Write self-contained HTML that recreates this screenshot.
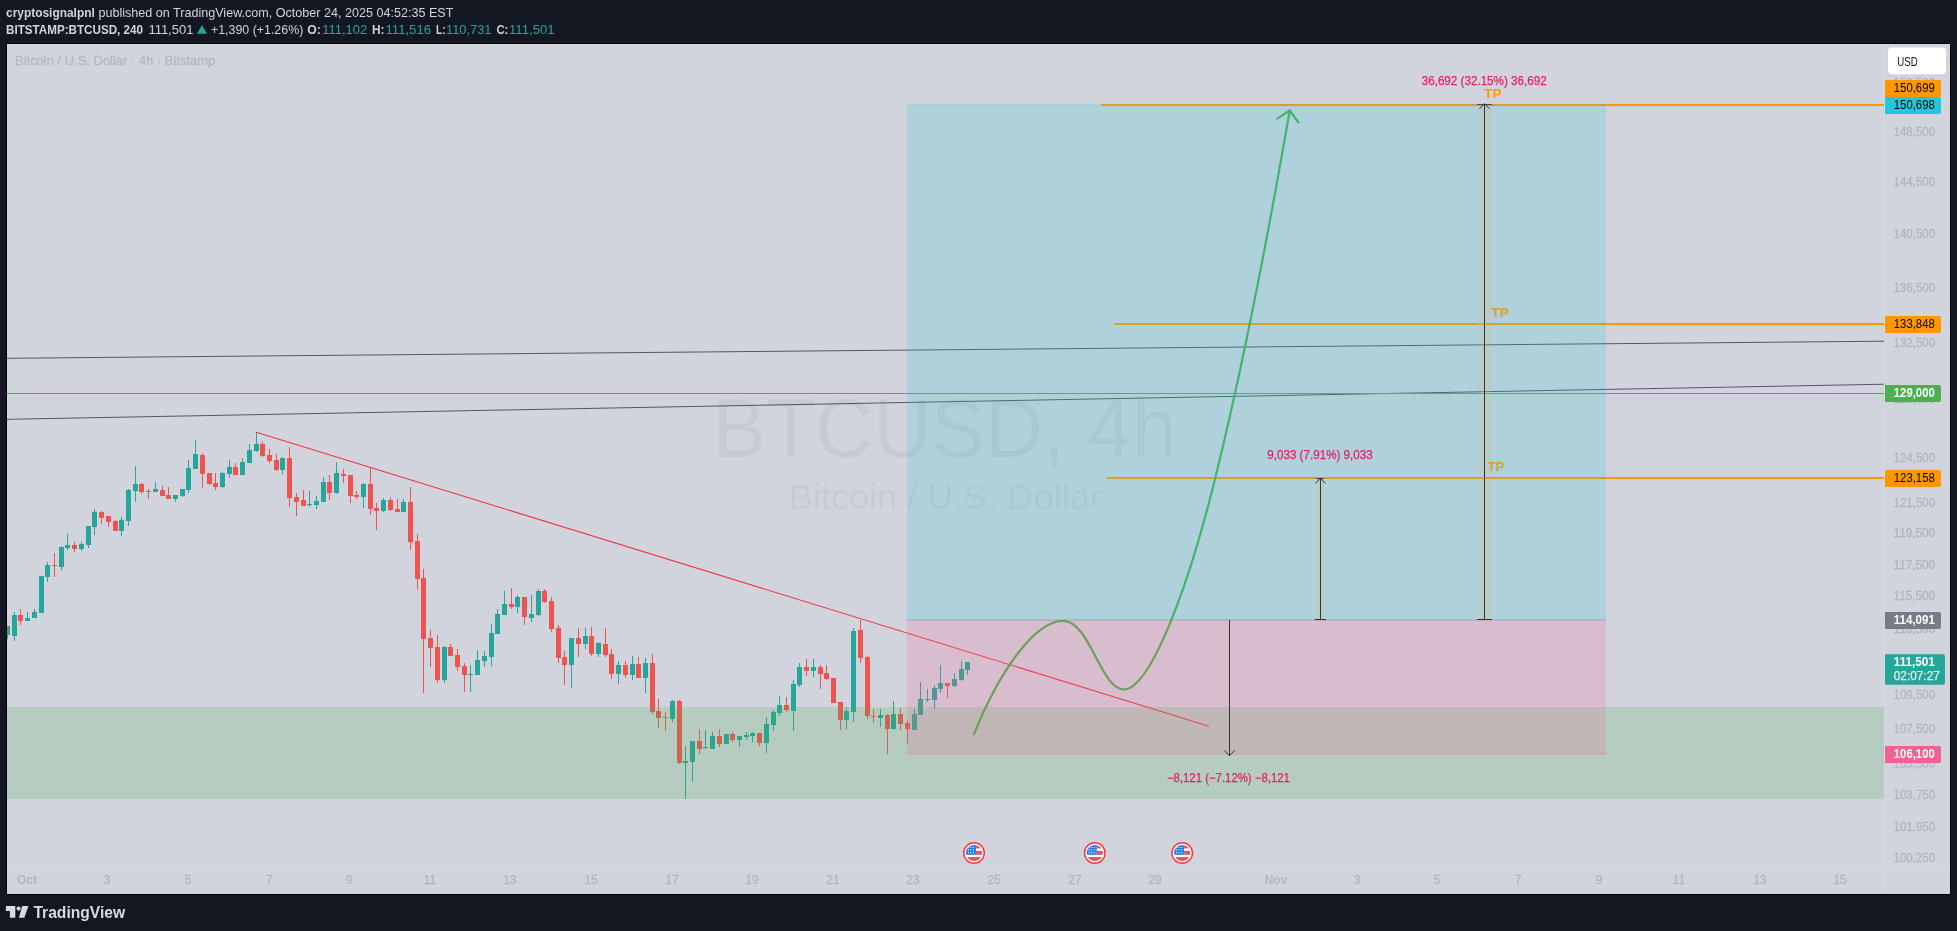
<!DOCTYPE html>
<html><head><meta charset="utf-8"><title>BTCUSD chart</title>
<style>html,body{margin:0;padding:0;background:#131722;overflow:hidden}body{width:1957px;height:931px;font-family:"Liberation Sans",sans-serif}</style></head>
<body>
<svg width="1957" height="931" viewBox="0 0 1957 931" style="display:block;will-change:transform">
<defs>
<clipPath id="cc"><rect x="7" y="44" width="1878" height="823"/></clipPath>
<clipPath id="ca"><rect x="7" y="44" width="1943" height="850"/></clipPath>
<clipPath id="fl"><circle cx="0" cy="0" r="8.1"/></clipPath>
</defs>
<rect width="1957" height="931" fill="#131722"/>
<rect x="6" y="43" width="1945" height="852" fill="#000"/>
<rect x="7" y="44" width="1943" height="850" fill="#d1d4dc"/>
<text x="6" y="17" font-size="13" fill="#d1d4dc" font-family="Liberation Sans, sans-serif" font-weight="bold" textLength="88.8" lengthAdjust="spacingAndGlyphs" >cryptosignalpnl</text>
<text x="98.4" y="17" font-size="13" fill="#d1d4dc" font-family="Liberation Sans, sans-serif" textLength="355" lengthAdjust="spacingAndGlyphs" >published on TradingView.com, October 24, 2025 04:52:35 EST</text>
<text x="6" y="34" font-size="13" fill="#d1d4dc" font-family="Liberation Sans, sans-serif" font-weight="bold" textLength="137" lengthAdjust="spacingAndGlyphs" >BITSTAMP:BTCUSD, 240</text>
<text x="148.4" y="34" font-size="13" fill="#d1d4dc" font-family="Liberation Sans, sans-serif" textLength="45" lengthAdjust="spacingAndGlyphs" >111,501</text>
<path d="M197 33.7 L202 25 L207 33.7 Z" fill="#26a69a"/>
<text x="211" y="34" font-size="13" fill="#d1d4dc" font-family="Liberation Sans, sans-serif" textLength="92.3" lengthAdjust="spacingAndGlyphs" >+1,390 (+1.26%)</text>
<text x="307.2" y="34" font-size="13" fill="#d1d4dc" font-family="Liberation Sans, sans-serif" font-weight="bold" textLength="13.5" lengthAdjust="spacingAndGlyphs" >O:</text>
<text x="322.2" y="34" font-size="13" fill="#26a69a" font-family="Liberation Sans, sans-serif" textLength="45" lengthAdjust="spacingAndGlyphs" >111,102</text>
<text x="372" y="34" font-size="13" fill="#d1d4dc" font-family="Liberation Sans, sans-serif" font-weight="bold" textLength="12.5" lengthAdjust="spacingAndGlyphs" >H:</text>
<text x="385.5" y="34" font-size="13" fill="#26a69a" font-family="Liberation Sans, sans-serif" textLength="45.5" lengthAdjust="spacingAndGlyphs" >111,516</text>
<text x="436" y="34" font-size="13" fill="#d1d4dc" font-family="Liberation Sans, sans-serif" font-weight="bold" textLength="9.5" lengthAdjust="spacingAndGlyphs" >L:</text>
<text x="446" y="34" font-size="13" fill="#26a69a" font-family="Liberation Sans, sans-serif" textLength="45.4" lengthAdjust="spacingAndGlyphs" >110,731</text>
<text x="496.4" y="34" font-size="13" fill="#d1d4dc" font-family="Liberation Sans, sans-serif" font-weight="bold" textLength="12" lengthAdjust="spacingAndGlyphs" >C:</text>
<text x="509" y="34" font-size="13" fill="#26a69a" font-family="Liberation Sans, sans-serif" textLength="45.7" lengthAdjust="spacingAndGlyphs" >111,501</text>
<g clip-path="url(#cc)">
<g opacity="0.14">
<text x="944.6" y="457.3" font-size="83" fill="#8f94a3" font-family="Liberation Sans, sans-serif" textLength="464" lengthAdjust="spacingAndGlyphs" text-anchor="middle" >BTCUSD, 4h</text>
<text x="945.3" y="508.8" font-size="35" fill="#8f94a3" font-family="Liberation Sans, sans-serif" textLength="313" lengthAdjust="spacingAndGlyphs" text-anchor="middle" >Bitcoin / U.S. Dollar</text>
</g>
<text x="15" y="65.4" font-size="13" fill="#b4b7c1" font-family="Liberation Sans, sans-serif" textLength="200.3" lengthAdjust="spacingAndGlyphs" stroke="#b4b7c1" stroke-width="0.3">Bitcoin / U.S. Dollar · 4h · Bitstamp</text>
<rect x="14" y="612" width="1" height="29" fill="#26a69a"/>
<rect x="12" y="615" width="5" height="21" fill="#26a69a"/>
<rect x="20" y="609" width="1" height="16" fill="#ef5350"/>
<rect x="18" y="615" width="5" height="6" fill="#ef5350"/>
<rect x="27" y="612" width="1" height="9" fill="#26a69a"/>
<rect x="25" y="618" width="5" height="3" fill="#26a69a"/>
<rect x="34" y="609" width="1" height="9" fill="#26a69a"/>
<rect x="32" y="612" width="5" height="6" fill="#26a69a"/>
<rect x="41" y="576" width="1" height="37" fill="#26a69a"/>
<rect x="39" y="576" width="5" height="37" fill="#26a69a"/>
<rect x="47" y="562" width="1" height="20" fill="#26a69a"/>
<rect x="45" y="565" width="5" height="12" fill="#26a69a"/>
<rect x="54" y="553" width="1" height="24" fill="#ef5350"/>
<rect x="52" y="565" width="5" height="1" fill="#ef5350"/>
<rect x="61" y="546" width="1" height="24" fill="#26a69a"/>
<rect x="59" y="547" width="5" height="20" fill="#26a69a"/>
<rect x="67" y="534" width="1" height="16" fill="#26a69a"/>
<rect x="65" y="545" width="5" height="3" fill="#26a69a"/>
<rect x="74" y="542" width="1" height="10" fill="#ef5350"/>
<rect x="72" y="545" width="5" height="4" fill="#ef5350"/>
<rect x="81" y="542" width="1" height="9" fill="#26a69a"/>
<rect x="79" y="544" width="5" height="5" fill="#26a69a"/>
<rect x="88" y="526" width="1" height="22" fill="#26a69a"/>
<rect x="86" y="526" width="5" height="19" fill="#26a69a"/>
<rect x="94" y="509" width="1" height="26" fill="#26a69a"/>
<rect x="92" y="512" width="5" height="15" fill="#26a69a"/>
<rect x="101" y="511" width="1" height="13" fill="#ef5350"/>
<rect x="99" y="512" width="5" height="6" fill="#ef5350"/>
<rect x="108" y="516" width="1" height="11" fill="#ef5350"/>
<rect x="106" y="516" width="5" height="6" fill="#ef5350"/>
<rect x="115" y="520" width="1" height="11" fill="#ef5350"/>
<rect x="113" y="521" width="5" height="10" fill="#ef5350"/>
<rect x="121" y="517" width="1" height="19" fill="#26a69a"/>
<rect x="119" y="520" width="5" height="11" fill="#26a69a"/>
<rect x="128" y="489" width="1" height="37" fill="#26a69a"/>
<rect x="126" y="490" width="5" height="31" fill="#26a69a"/>
<rect x="135" y="466" width="1" height="36" fill="#26a69a"/>
<rect x="133" y="484" width="5" height="7" fill="#26a69a"/>
<rect x="141" y="483" width="1" height="11" fill="#ef5350"/>
<rect x="139" y="484" width="5" height="8" fill="#ef5350"/>
<rect x="148" y="489" width="1" height="10" fill="#ef5350"/>
<rect x="146" y="491" width="5" height="1" fill="#ef5350"/>
<rect x="155" y="482" width="1" height="10" fill="#26a69a"/>
<rect x="153" y="489" width="5" height="3" fill="#26a69a"/>
<rect x="162" y="486" width="1" height="10" fill="#ef5350"/>
<rect x="160" y="490" width="5" height="6" fill="#ef5350"/>
<rect x="168" y="487" width="1" height="12" fill="#ef5350"/>
<rect x="166" y="495" width="5" height="4" fill="#ef5350"/>
<rect x="175" y="495" width="1" height="7" fill="#26a69a"/>
<rect x="173" y="495" width="5" height="4" fill="#26a69a"/>
<rect x="182" y="489" width="1" height="8" fill="#26a69a"/>
<rect x="180" y="489" width="5" height="7" fill="#26a69a"/>
<rect x="188" y="460" width="1" height="33" fill="#26a69a"/>
<rect x="186" y="468" width="5" height="22" fill="#26a69a"/>
<rect x="195" y="440" width="1" height="29" fill="#26a69a"/>
<rect x="193" y="454" width="5" height="15" fill="#26a69a"/>
<rect x="202" y="453" width="1" height="35" fill="#ef5350"/>
<rect x="200" y="455" width="5" height="19" fill="#ef5350"/>
<rect x="209" y="473" width="1" height="12" fill="#ef5350"/>
<rect x="207" y="473" width="5" height="11" fill="#ef5350"/>
<rect x="215" y="473" width="1" height="17" fill="#ef5350"/>
<rect x="213" y="483" width="5" height="4" fill="#ef5350"/>
<rect x="222" y="472" width="1" height="16" fill="#26a69a"/>
<rect x="220" y="473" width="5" height="14" fill="#26a69a"/>
<rect x="229" y="460" width="1" height="18" fill="#26a69a"/>
<rect x="227" y="467" width="5" height="7" fill="#26a69a"/>
<rect x="235" y="463" width="1" height="12" fill="#ef5350"/>
<rect x="233" y="467" width="5" height="8" fill="#ef5350"/>
<rect x="242" y="458" width="1" height="17" fill="#26a69a"/>
<rect x="240" y="462" width="5" height="13" fill="#26a69a"/>
<rect x="249" y="444" width="1" height="19" fill="#26a69a"/>
<rect x="247" y="450" width="5" height="13" fill="#26a69a"/>
<rect x="256" y="432" width="1" height="20" fill="#26a69a"/>
<rect x="254" y="444" width="5" height="7" fill="#26a69a"/>
<rect x="262" y="442" width="1" height="15" fill="#ef5350"/>
<rect x="260" y="444" width="5" height="12" fill="#ef5350"/>
<rect x="269" y="449" width="1" height="14" fill="#ef5350"/>
<rect x="267" y="455" width="5" height="6" fill="#ef5350"/>
<rect x="276" y="454" width="1" height="17" fill="#ef5350"/>
<rect x="274" y="460" width="5" height="10" fill="#ef5350"/>
<rect x="282" y="457" width="1" height="17" fill="#26a69a"/>
<rect x="280" y="458" width="5" height="12" fill="#26a69a"/>
<rect x="289" y="447" width="1" height="60" fill="#ef5350"/>
<rect x="287" y="458" width="5" height="40" fill="#ef5350"/>
<rect x="296" y="493" width="1" height="23" fill="#ef5350"/>
<rect x="294" y="497" width="5" height="5" fill="#ef5350"/>
<rect x="303" y="490" width="1" height="16" fill="#ef5350"/>
<rect x="301" y="500" width="5" height="6" fill="#ef5350"/>
<rect x="309" y="491" width="1" height="16" fill="#26a69a"/>
<rect x="307" y="504" width="5" height="1" fill="#26a69a"/>
<rect x="316" y="496" width="1" height="13" fill="#26a69a"/>
<rect x="314" y="501" width="5" height="4" fill="#26a69a"/>
<rect x="323" y="477" width="1" height="25" fill="#26a69a"/>
<rect x="321" y="482" width="5" height="20" fill="#26a69a"/>
<rect x="329" y="475" width="1" height="25" fill="#ef5350"/>
<rect x="327" y="482" width="5" height="11" fill="#ef5350"/>
<rect x="336" y="462" width="1" height="32" fill="#26a69a"/>
<rect x="334" y="473" width="5" height="20" fill="#26a69a"/>
<rect x="343" y="469" width="1" height="14" fill="#ef5350"/>
<rect x="341" y="474" width="5" height="2" fill="#ef5350"/>
<rect x="350" y="475" width="1" height="28" fill="#ef5350"/>
<rect x="348" y="475" width="5" height="21" fill="#ef5350"/>
<rect x="356" y="491" width="1" height="8" fill="#ef5350"/>
<rect x="354" y="495" width="5" height="2" fill="#ef5350"/>
<rect x="363" y="483" width="1" height="25" fill="#26a69a"/>
<rect x="361" y="484" width="5" height="13" fill="#26a69a"/>
<rect x="370" y="468" width="1" height="47" fill="#ef5350"/>
<rect x="368" y="484" width="5" height="25" fill="#ef5350"/>
<rect x="376" y="503" width="1" height="27" fill="#ef5350"/>
<rect x="374" y="508" width="5" height="3" fill="#ef5350"/>
<rect x="383" y="498" width="1" height="14" fill="#26a69a"/>
<rect x="381" y="500" width="5" height="11" fill="#26a69a"/>
<rect x="390" y="497" width="1" height="14" fill="#ef5350"/>
<rect x="388" y="500" width="5" height="10" fill="#ef5350"/>
<rect x="397" y="499" width="1" height="13" fill="#ef5350"/>
<rect x="395" y="509" width="5" height="3" fill="#ef5350"/>
<rect x="403" y="499" width="1" height="13" fill="#26a69a"/>
<rect x="401" y="502" width="5" height="10" fill="#26a69a"/>
<rect x="410" y="487" width="1" height="63" fill="#ef5350"/>
<rect x="408" y="502" width="5" height="40" fill="#ef5350"/>
<rect x="417" y="534" width="1" height="56" fill="#ef5350"/>
<rect x="415" y="541" width="5" height="38" fill="#ef5350"/>
<rect x="423" y="569" width="1" height="124" fill="#ef5350"/>
<rect x="421" y="578" width="5" height="61" fill="#ef5350"/>
<rect x="430" y="630" width="1" height="37" fill="#ef5350"/>
<rect x="428" y="638" width="5" height="10" fill="#ef5350"/>
<rect x="437" y="635" width="1" height="48" fill="#ef5350"/>
<rect x="435" y="647" width="5" height="33" fill="#ef5350"/>
<rect x="444" y="646" width="1" height="37" fill="#26a69a"/>
<rect x="442" y="647" width="5" height="33" fill="#26a69a"/>
<rect x="450" y="644" width="1" height="12" fill="#ef5350"/>
<rect x="448" y="647" width="5" height="9" fill="#ef5350"/>
<rect x="457" y="649" width="1" height="22" fill="#ef5350"/>
<rect x="455" y="655" width="5" height="12" fill="#ef5350"/>
<rect x="464" y="663" width="1" height="29" fill="#ef5350"/>
<rect x="462" y="666" width="5" height="9" fill="#ef5350"/>
<rect x="470" y="665" width="1" height="27" fill="#26a69a"/>
<rect x="468" y="674" width="5" height="1" fill="#26a69a"/>
<rect x="477" y="650" width="1" height="25" fill="#26a69a"/>
<rect x="475" y="660" width="5" height="15" fill="#26a69a"/>
<rect x="484" y="651" width="1" height="16" fill="#26a69a"/>
<rect x="482" y="656" width="5" height="5" fill="#26a69a"/>
<rect x="491" y="624" width="1" height="42" fill="#26a69a"/>
<rect x="489" y="633" width="5" height="24" fill="#26a69a"/>
<rect x="497" y="609" width="1" height="25" fill="#26a69a"/>
<rect x="495" y="614" width="5" height="20" fill="#26a69a"/>
<rect x="504" y="591" width="1" height="24" fill="#26a69a"/>
<rect x="502" y="604" width="5" height="11" fill="#26a69a"/>
<rect x="511" y="588" width="1" height="21" fill="#ef5350"/>
<rect x="509" y="604" width="5" height="3" fill="#ef5350"/>
<rect x="517" y="595" width="1" height="18" fill="#26a69a"/>
<rect x="515" y="597" width="5" height="10" fill="#26a69a"/>
<rect x="524" y="597" width="1" height="28" fill="#ef5350"/>
<rect x="522" y="597" width="5" height="20" fill="#ef5350"/>
<rect x="531" y="595" width="1" height="27" fill="#26a69a"/>
<rect x="529" y="614" width="5" height="4" fill="#26a69a"/>
<rect x="538" y="589" width="1" height="27" fill="#26a69a"/>
<rect x="536" y="591" width="5" height="24" fill="#26a69a"/>
<rect x="544" y="589" width="1" height="14" fill="#ef5350"/>
<rect x="542" y="591" width="5" height="11" fill="#ef5350"/>
<rect x="551" y="597" width="1" height="35" fill="#ef5350"/>
<rect x="549" y="601" width="5" height="28" fill="#ef5350"/>
<rect x="558" y="625" width="1" height="38" fill="#ef5350"/>
<rect x="556" y="628" width="5" height="30" fill="#ef5350"/>
<rect x="564" y="651" width="1" height="34" fill="#ef5350"/>
<rect x="562" y="657" width="5" height="8" fill="#ef5350"/>
<rect x="571" y="638" width="1" height="50" fill="#26a69a"/>
<rect x="569" y="638" width="5" height="27" fill="#26a69a"/>
<rect x="578" y="628" width="1" height="29" fill="#ef5350"/>
<rect x="576" y="638" width="5" height="6" fill="#ef5350"/>
<rect x="585" y="628" width="1" height="21" fill="#26a69a"/>
<rect x="583" y="636" width="5" height="8" fill="#26a69a"/>
<rect x="591" y="627" width="1" height="29" fill="#ef5350"/>
<rect x="589" y="636" width="5" height="18" fill="#ef5350"/>
<rect x="598" y="642" width="1" height="15" fill="#26a69a"/>
<rect x="596" y="643" width="5" height="11" fill="#26a69a"/>
<rect x="605" y="628" width="1" height="29" fill="#ef5350"/>
<rect x="603" y="644" width="5" height="11" fill="#ef5350"/>
<rect x="611" y="649" width="1" height="30" fill="#ef5350"/>
<rect x="609" y="654" width="5" height="20" fill="#ef5350"/>
<rect x="618" y="661" width="1" height="23" fill="#26a69a"/>
<rect x="616" y="665" width="5" height="9" fill="#26a69a"/>
<rect x="625" y="661" width="1" height="17" fill="#ef5350"/>
<rect x="623" y="665" width="5" height="10" fill="#ef5350"/>
<rect x="632" y="656" width="1" height="24" fill="#26a69a"/>
<rect x="630" y="664" width="5" height="11" fill="#26a69a"/>
<rect x="638" y="657" width="1" height="21" fill="#ef5350"/>
<rect x="636" y="664" width="5" height="14" fill="#ef5350"/>
<rect x="645" y="658" width="1" height="35" fill="#26a69a"/>
<rect x="643" y="663" width="5" height="15" fill="#26a69a"/>
<rect x="652" y="654" width="1" height="60" fill="#ef5350"/>
<rect x="650" y="663" width="5" height="49" fill="#ef5350"/>
<rect x="658" y="699" width="1" height="29" fill="#ef5350"/>
<rect x="656" y="711" width="5" height="7" fill="#ef5350"/>
<rect x="665" y="712" width="1" height="19" fill="#ef5350"/>
<rect x="663" y="717" width="5" height="1" fill="#ef5350"/>
<rect x="672" y="700" width="1" height="22" fill="#26a69a"/>
<rect x="670" y="701" width="5" height="18" fill="#26a69a"/>
<rect x="679" y="700" width="1" height="64" fill="#ef5350"/>
<rect x="677" y="701" width="5" height="62" fill="#ef5350"/>
<rect x="685" y="746" width="1" height="53" fill="#26a69a"/>
<rect x="683" y="761" width="5" height="2" fill="#26a69a"/>
<rect x="692" y="741" width="1" height="41" fill="#26a69a"/>
<rect x="690" y="741" width="5" height="21" fill="#26a69a"/>
<rect x="699" y="729" width="1" height="25" fill="#ef5350"/>
<rect x="697" y="741" width="5" height="8" fill="#ef5350"/>
<rect x="705" y="730" width="1" height="19" fill="#26a69a"/>
<rect x="703" y="747" width="5" height="1" fill="#26a69a"/>
<rect x="712" y="732" width="1" height="17" fill="#26a69a"/>
<rect x="710" y="736" width="5" height="13" fill="#26a69a"/>
<rect x="719" y="729" width="1" height="18" fill="#ef5350"/>
<rect x="717" y="736" width="5" height="8" fill="#ef5350"/>
<rect x="726" y="734" width="1" height="10" fill="#26a69a"/>
<rect x="724" y="734" width="5" height="10" fill="#26a69a"/>
<rect x="732" y="732" width="1" height="10" fill="#ef5350"/>
<rect x="730" y="734" width="5" height="6" fill="#ef5350"/>
<rect x="739" y="736" width="1" height="11" fill="#26a69a"/>
<rect x="737" y="736" width="5" height="4" fill="#26a69a"/>
<rect x="746" y="732" width="1" height="8" fill="#26a69a"/>
<rect x="744" y="735" width="5" height="2" fill="#26a69a"/>
<rect x="752" y="732" width="1" height="10" fill="#26a69a"/>
<rect x="750" y="733" width="5" height="3" fill="#26a69a"/>
<rect x="759" y="733" width="1" height="13" fill="#ef5350"/>
<rect x="757" y="733" width="5" height="10" fill="#ef5350"/>
<rect x="766" y="717" width="1" height="36" fill="#26a69a"/>
<rect x="764" y="724" width="5" height="19" fill="#26a69a"/>
<rect x="773" y="710" width="1" height="21" fill="#26a69a"/>
<rect x="771" y="712" width="5" height="13" fill="#26a69a"/>
<rect x="779" y="696" width="1" height="20" fill="#26a69a"/>
<rect x="777" y="705" width="5" height="8" fill="#26a69a"/>
<rect x="786" y="697" width="1" height="15" fill="#ef5350"/>
<rect x="784" y="705" width="5" height="5" fill="#ef5350"/>
<rect x="793" y="680" width="1" height="51" fill="#26a69a"/>
<rect x="791" y="684" width="5" height="27" fill="#26a69a"/>
<rect x="799" y="663" width="1" height="24" fill="#26a69a"/>
<rect x="797" y="667" width="5" height="18" fill="#26a69a"/>
<rect x="806" y="659" width="1" height="17" fill="#ef5350"/>
<rect x="804" y="667" width="5" height="4" fill="#ef5350"/>
<rect x="813" y="659" width="1" height="18" fill="#26a69a"/>
<rect x="811" y="667" width="5" height="4" fill="#26a69a"/>
<rect x="820" y="665" width="1" height="24" fill="#ef5350"/>
<rect x="818" y="667" width="5" height="7" fill="#ef5350"/>
<rect x="826" y="665" width="1" height="15" fill="#ef5350"/>
<rect x="824" y="673" width="5" height="6" fill="#ef5350"/>
<rect x="833" y="678" width="1" height="25" fill="#ef5350"/>
<rect x="831" y="678" width="5" height="25" fill="#ef5350"/>
<rect x="840" y="702" width="1" height="28" fill="#ef5350"/>
<rect x="838" y="702" width="5" height="18" fill="#ef5350"/>
<rect x="846" y="707" width="1" height="22" fill="#26a69a"/>
<rect x="844" y="711" width="5" height="9" fill="#26a69a"/>
<rect x="853" y="628" width="1" height="94" fill="#26a69a"/>
<rect x="851" y="631" width="5" height="81" fill="#26a69a"/>
<rect x="860" y="620" width="1" height="43" fill="#ef5350"/>
<rect x="858" y="630" width="5" height="28" fill="#ef5350"/>
<rect x="867" y="656" width="1" height="63" fill="#ef5350"/>
<rect x="865" y="657" width="5" height="59" fill="#ef5350"/>
<rect x="873" y="709" width="1" height="14" fill="#ef5350"/>
<rect x="871" y="716" width="5" height="1" fill="#ef5350"/>
<rect x="880" y="709" width="1" height="18" fill="#26a69a"/>
<rect x="878" y="715" width="5" height="3" fill="#26a69a"/>
<rect x="887" y="714" width="1" height="40" fill="#ef5350"/>
<rect x="885" y="715" width="5" height="14" fill="#ef5350"/>
<rect x="893" y="701" width="1" height="29" fill="#26a69a"/>
<rect x="891" y="714" width="5" height="15" fill="#26a69a"/>
<rect x="900" y="708" width="1" height="22" fill="#ef5350"/>
<rect x="898" y="714" width="5" height="10" fill="#ef5350"/>
<rect x="907" y="720" width="1" height="24" fill="#ef5350"/>
<rect x="905" y="723" width="5" height="6" fill="#ef5350"/>
<rect x="914" y="709" width="1" height="21" fill="#26a69a"/>
<rect x="912" y="714" width="5" height="16" fill="#26a69a"/>
<rect x="920" y="682" width="1" height="33" fill="#26a69a"/>
<rect x="918" y="699" width="5" height="16" fill="#26a69a"/>
<rect x="927" y="689" width="1" height="13" fill="#26a69a"/>
<rect x="925" y="699" width="5" height="1" fill="#26a69a"/>
<rect x="934" y="685" width="1" height="24" fill="#26a69a"/>
<rect x="932" y="688" width="5" height="12" fill="#26a69a"/>
<rect x="940" y="665" width="1" height="28" fill="#26a69a"/>
<rect x="938" y="683" width="5" height="6" fill="#26a69a"/>
<rect x="947" y="683" width="1" height="15" fill="#ef5350"/>
<rect x="945" y="683" width="5" height="3" fill="#ef5350"/>
<rect x="954" y="673" width="1" height="14" fill="#26a69a"/>
<rect x="952" y="679" width="5" height="7" fill="#26a69a"/>
<rect x="961" y="661" width="1" height="20" fill="#26a69a"/>
<rect x="959" y="669" width="5" height="11" fill="#26a69a"/>
<rect x="967" y="662" width="1" height="13" fill="#26a69a"/>
<rect x="965" y="662" width="5" height="8" fill="#26a69a"/>
<rect x="7" y="626" width="1" height="13" fill="#26a69a"/>
<rect x="5" y="626" width="5" height="9" fill="#26a69a"/>
<line x1="7" y1="358.3" x2="1885" y2="341.2" stroke="#2a2e39" stroke-width="1" opacity="0.75"/>
<line x1="7" y1="419.3" x2="1885" y2="384.2" stroke="#2a2e39" stroke-width="1" opacity="0.75"/>
<rect x="7" y="393" width="1878" height="1" fill="#4caf50"/>
<rect x="1101" y="104" width="784" height="2" fill="#ff9800"/>
<rect x="1114.5" y="323" width="771" height="2" fill="#ff9800"/>
<rect x="1107" y="477" width="778" height="2" fill="#ff9800"/>
<line x1="255.5" y1="432" x2="1209" y2="726.2" stroke="#f23645" stroke-width="1.05"/>
<path d="M974 734 C 1000 670, 1035 621, 1063 620.8 C 1090 620.8, 1100.5 689.5, 1123.9 689.5 C 1148.2 689.5, 1185.2 599.9, 1215.4 477.5 C 1239.2 380.9, 1267.85 236.85, 1289.7 110.8" fill="none" stroke="#4caf50" stroke-width="2.2" stroke-linecap="round"/>
<path d="M1277.4 118.7 L1289.7 110.5 L1298.3 122.4" fill="none" stroke="#4caf50" stroke-width="2.2" stroke-linecap="round" stroke-linejoin="round"/>
<text x="1491.6" y="317" font-size="13" fill="#ff9800" font-family="Liberation Sans, sans-serif" font-weight="bold" textLength="16.9" lengthAdjust="spacingAndGlyphs" >TP</text>
<text x="1487.5" y="471" font-size="13" fill="#ff9800" font-family="Liberation Sans, sans-serif" font-weight="bold" textLength="16.5" lengthAdjust="spacingAndGlyphs" >TP</text>
<rect x="7" y="707" width="1878" height="92" fill="#4caf50" fill-opacity="0.2"/>
<rect x="907" y="105" width="699" height="515" fill="#26c6da" fill-opacity="0.2"/>
<rect x="907" y="620" width="699" height="134" fill="#f06292" fill-opacity="0.2"/>
<rect x="907" y="104.5" width="699" height="1" fill="#26c6da" fill-opacity="0.35"/>
<rect x="907" y="619.5" width="699" height="1" fill="#787b86" fill-opacity="0.45"/>
<rect x="907" y="753.5" width="699" height="1" fill="#f06292" fill-opacity="0.45"/>
<rect x="1478" y="105" width="14" height="515" fill="#f5b43c" fill-opacity="0.14"/>
<rect x="1484" y="105" width="1" height="515" fill="#2f3538"/>
<rect x="1477" y="619" width="15" height="1" fill="#2f3538"/>
<rect x="1477" y="104" width="15" height="0.8" fill="#2f3538"/>
<path d="M1479.5 108.8 L1484.5 103.6 L1489.5 108.8" fill="none" stroke="#2f3538" stroke-width="1"/>
<rect x="1316" y="478" width="8" height="142" fill="#f5b43c" fill-opacity="0.14"/>
<rect x="1316" y="478" width="8" height="0.8" fill="#2f3538"/>
<rect x="1320" y="478" width="1" height="142" fill="#2f3538"/>
<rect x="1315" y="619" width="11" height="1" fill="#2f3538"/>
<path d="M1315.5 483.5 L1320.5 478.2 L1325.5 483.5" fill="none" stroke="#2f3538" stroke-width="1"/>
<rect x="1229" y="620" width="1" height="136" fill="#2f3538"/>
<path d="M1224.5 750.5 L1229.5 755.8 L1234.5 750.5" fill="none" stroke="#2f3538" stroke-width="1"/>
<text x="1484.2" y="84.8" font-size="12" fill="#e91e63" font-family="Liberation Sans, sans-serif" textLength="125" lengthAdjust="spacingAndGlyphs" text-anchor="middle" stroke="#e91e63" stroke-width="0.25">36,692 (32.15%) 36,692</text>
<text x="1320" y="459" font-size="12" fill="#e91e63" font-family="Liberation Sans, sans-serif" textLength="105.5" lengthAdjust="spacingAndGlyphs" text-anchor="middle" stroke="#e91e63" stroke-width="0.25">9,033 (7.91%) 9,033</text>
<text x="1228.4" y="781.8" font-size="12" fill="#e91e63" font-family="Liberation Sans, sans-serif" textLength="123" lengthAdjust="spacingAndGlyphs" text-anchor="middle" stroke="#e91e63" stroke-width="0.25">−8,121 (−7.12%) −8,121</text>
<text x="1484.3" y="97.7" font-size="13" fill="#ff9800" font-family="Liberation Sans, sans-serif" font-weight="bold" textLength="17" lengthAdjust="spacingAndGlyphs" >TP</text>
<g transform="translate(974 853)">
<circle r="10.9" fill="#fff"/>
<circle r="10.3" fill="none" stroke="#f23645" stroke-width="1.5"/>
<g clip-path="url(#fl)">
<rect x="-9" y="-9" width="18" height="18" fill="#fff"/>
<rect x="1.9" y="-8.2" width="7" height="3.6" fill="#ef5350"/>
<rect x="1.9" y="-2.1" width="7" height="3.9" fill="#ef5350"/>
<rect x="-9" y="4.05" width="18" height="4.2" fill="#ef5350"/>
<rect x="-9" y="-8.2" width="10.95" height="10" fill="#2a7de1"/>
<rect x="-6.15" y="-6.25" width="1.1" height="1.1" fill="#fff"/>
<rect x="-3.75" y="-6.25" width="1.1" height="1.1" fill="#fff"/>
<rect x="-1.05" y="-6.25" width="1.1" height="1.1" fill="#fff"/>
<rect x="-6.15" y="-3.65" width="1.1" height="1.1" fill="#fff"/>
<rect x="-3.75" y="-3.65" width="1.1" height="1.1" fill="#fff"/>
<rect x="-1.05" y="-3.65" width="1.1" height="1.1" fill="#fff"/>
<rect x="-6.15" y="-0.95" width="1.1" height="1.1" fill="#fff"/>
<rect x="-3.75" y="-0.95" width="1.1" height="1.1" fill="#fff"/>
<rect x="-1.05" y="-0.95" width="1.1" height="1.1" fill="#fff"/>
</g></g>
<g transform="translate(1094.8 853)">
<circle r="10.9" fill="#fff"/>
<circle r="10.3" fill="none" stroke="#f23645" stroke-width="1.5"/>
<g clip-path="url(#fl)">
<rect x="-9" y="-9" width="18" height="18" fill="#fff"/>
<rect x="1.9" y="-8.2" width="7" height="3.6" fill="#ef5350"/>
<rect x="1.9" y="-2.1" width="7" height="3.9" fill="#ef5350"/>
<rect x="-9" y="4.05" width="18" height="4.2" fill="#ef5350"/>
<rect x="-9" y="-8.2" width="10.95" height="10" fill="#2a7de1"/>
<rect x="-6.15" y="-6.25" width="1.1" height="1.1" fill="#fff"/>
<rect x="-3.75" y="-6.25" width="1.1" height="1.1" fill="#fff"/>
<rect x="-1.05" y="-6.25" width="1.1" height="1.1" fill="#fff"/>
<rect x="-6.15" y="-3.65" width="1.1" height="1.1" fill="#fff"/>
<rect x="-3.75" y="-3.65" width="1.1" height="1.1" fill="#fff"/>
<rect x="-1.05" y="-3.65" width="1.1" height="1.1" fill="#fff"/>
<rect x="-6.15" y="-0.95" width="1.1" height="1.1" fill="#fff"/>
<rect x="-3.75" y="-0.95" width="1.1" height="1.1" fill="#fff"/>
<rect x="-1.05" y="-0.95" width="1.1" height="1.1" fill="#fff"/>
</g></g>
<g transform="translate(1182.2 853)">
<circle r="10.9" fill="#fff"/>
<circle r="10.3" fill="none" stroke="#f23645" stroke-width="1.5"/>
<g clip-path="url(#fl)">
<rect x="-9" y="-9" width="18" height="18" fill="#fff"/>
<rect x="1.9" y="-8.2" width="7" height="3.6" fill="#ef5350"/>
<rect x="1.9" y="-2.1" width="7" height="3.9" fill="#ef5350"/>
<rect x="-9" y="4.05" width="18" height="4.2" fill="#ef5350"/>
<rect x="-9" y="-8.2" width="10.95" height="10" fill="#2a7de1"/>
<rect x="-6.15" y="-6.25" width="1.1" height="1.1" fill="#fff"/>
<rect x="-3.75" y="-6.25" width="1.1" height="1.1" fill="#fff"/>
<rect x="-1.05" y="-6.25" width="1.1" height="1.1" fill="#fff"/>
<rect x="-6.15" y="-3.65" width="1.1" height="1.1" fill="#fff"/>
<rect x="-3.75" y="-3.65" width="1.1" height="1.1" fill="#fff"/>
<rect x="-1.05" y="-3.65" width="1.1" height="1.1" fill="#fff"/>
<rect x="-6.15" y="-0.95" width="1.1" height="1.1" fill="#fff"/>
<rect x="-3.75" y="-0.95" width="1.1" height="1.1" fill="#fff"/>
<rect x="-1.05" y="-0.95" width="1.1" height="1.1" fill="#fff"/>
</g></g>
</g>
<g clip-path="url(#ca)">
<rect x="7" y="866" width="1943" height="1" fill="#d6d9e0"/>
<rect x="1884" y="44" width="1" height="850" fill="#d6d9e0"/>
<text x="1893.5" y="86.9" font-size="12" fill="#b2b5be" font-family="Liberation Sans, sans-serif" textLength="41.6" lengthAdjust="spacingAndGlyphs" stroke="#b2b5be" stroke-width="0.3">152,500</text>
<text x="1893.5" y="136.0" font-size="12" fill="#b2b5be" font-family="Liberation Sans, sans-serif" textLength="41.6" lengthAdjust="spacingAndGlyphs" stroke="#b2b5be" stroke-width="0.3">148,500</text>
<text x="1893.5" y="186.4" font-size="12" fill="#b2b5be" font-family="Liberation Sans, sans-serif" textLength="41.6" lengthAdjust="spacingAndGlyphs" stroke="#b2b5be" stroke-width="0.3">144,500</text>
<text x="1893.5" y="238.3" font-size="12" fill="#b2b5be" font-family="Liberation Sans, sans-serif" textLength="41.6" lengthAdjust="spacingAndGlyphs" stroke="#b2b5be" stroke-width="0.3">140,500</text>
<text x="1893.5" y="291.7" font-size="12" fill="#b2b5be" font-family="Liberation Sans, sans-serif" textLength="41.6" lengthAdjust="spacingAndGlyphs" stroke="#b2b5be" stroke-width="0.3">136,500</text>
<text x="1893.5" y="346.6" font-size="12" fill="#b2b5be" font-family="Liberation Sans, sans-serif" textLength="41.6" lengthAdjust="spacingAndGlyphs" stroke="#b2b5be" stroke-width="0.3">132,500</text>
<text x="1893.5" y="403.3" font-size="12" fill="#b2b5be" font-family="Liberation Sans, sans-serif" textLength="41.6" lengthAdjust="spacingAndGlyphs" stroke="#b2b5be" stroke-width="0.3">128,500</text>
<text x="1893.5" y="461.7" font-size="12" fill="#b2b5be" font-family="Liberation Sans, sans-serif" textLength="41.6" lengthAdjust="spacingAndGlyphs" stroke="#b2b5be" stroke-width="0.3">124,500</text>
<text x="1893.5" y="506.7" font-size="12" fill="#b2b5be" font-family="Liberation Sans, sans-serif" textLength="41.6" lengthAdjust="spacingAndGlyphs" stroke="#b2b5be" stroke-width="0.3">121,500</text>
<text x="1893.5" y="537.4" font-size="12" fill="#b2b5be" font-family="Liberation Sans, sans-serif" textLength="41.6" lengthAdjust="spacingAndGlyphs" stroke="#b2b5be" stroke-width="0.3">119,500</text>
<text x="1893.5" y="568.6" font-size="12" fill="#b2b5be" font-family="Liberation Sans, sans-serif" textLength="41.6" lengthAdjust="spacingAndGlyphs" stroke="#b2b5be" stroke-width="0.3">117,500</text>
<text x="1893.5" y="600.3" font-size="12" fill="#b2b5be" font-family="Liberation Sans, sans-serif" textLength="41.6" lengthAdjust="spacingAndGlyphs" stroke="#b2b5be" stroke-width="0.3">115,500</text>
<text x="1893.5" y="632.6" font-size="12" fill="#b2b5be" font-family="Liberation Sans, sans-serif" textLength="41.6" lengthAdjust="spacingAndGlyphs" stroke="#b2b5be" stroke-width="0.3">113,500</text>
<text x="1893.5" y="698.9" font-size="12" fill="#b2b5be" font-family="Liberation Sans, sans-serif" textLength="41.6" lengthAdjust="spacingAndGlyphs" stroke="#b2b5be" stroke-width="0.3">109,500</text>
<text x="1893.5" y="732.9" font-size="12" fill="#b2b5be" font-family="Liberation Sans, sans-serif" textLength="41.6" lengthAdjust="spacingAndGlyphs" stroke="#b2b5be" stroke-width="0.3">107,500</text>
<text x="1893.5" y="767.6" font-size="12" fill="#b2b5be" font-family="Liberation Sans, sans-serif" textLength="41.6" lengthAdjust="spacingAndGlyphs" stroke="#b2b5be" stroke-width="0.3">105,500</text>
<text x="1893.5" y="798.5" font-size="12" fill="#b2b5be" font-family="Liberation Sans, sans-serif" textLength="41.6" lengthAdjust="spacingAndGlyphs" stroke="#b2b5be" stroke-width="0.3">103,750</text>
<text x="1893.5" y="830.8" font-size="12" fill="#b2b5be" font-family="Liberation Sans, sans-serif" textLength="41.6" lengthAdjust="spacingAndGlyphs" stroke="#b2b5be" stroke-width="0.3">101,950</text>
<text x="1893.5" y="861.9" font-size="12" fill="#b2b5be" font-family="Liberation Sans, sans-serif" textLength="41.6" lengthAdjust="spacingAndGlyphs" stroke="#b2b5be" stroke-width="0.3">100,250</text>
<text x="27" y="884" font-size="12" fill="#b2b5be" font-family="Liberation Sans, sans-serif" font-weight="bold" text-anchor="middle" >Oct</text>
<text x="107" y="884" font-size="12" fill="#b2b5be" font-family="Liberation Sans, sans-serif" text-anchor="middle" stroke="#b2b5be" stroke-width="0.3">3</text>
<text x="188" y="884" font-size="12" fill="#b2b5be" font-family="Liberation Sans, sans-serif" text-anchor="middle" stroke="#b2b5be" stroke-width="0.3">5</text>
<text x="269" y="884" font-size="12" fill="#b2b5be" font-family="Liberation Sans, sans-serif" text-anchor="middle" stroke="#b2b5be" stroke-width="0.3">7</text>
<text x="349" y="884" font-size="12" fill="#b2b5be" font-family="Liberation Sans, sans-serif" text-anchor="middle" stroke="#b2b5be" stroke-width="0.3">9</text>
<text x="430" y="884" font-size="12" fill="#b2b5be" font-family="Liberation Sans, sans-serif" text-anchor="middle" stroke="#b2b5be" stroke-width="0.3">11</text>
<text x="510" y="884" font-size="12" fill="#b2b5be" font-family="Liberation Sans, sans-serif" text-anchor="middle" stroke="#b2b5be" stroke-width="0.3">13</text>
<text x="591" y="884" font-size="12" fill="#b2b5be" font-family="Liberation Sans, sans-serif" text-anchor="middle" stroke="#b2b5be" stroke-width="0.3">15</text>
<text x="672" y="884" font-size="12" fill="#b2b5be" font-family="Liberation Sans, sans-serif" text-anchor="middle" stroke="#b2b5be" stroke-width="0.3">17</text>
<text x="752" y="884" font-size="12" fill="#b2b5be" font-family="Liberation Sans, sans-serif" text-anchor="middle" stroke="#b2b5be" stroke-width="0.3">19</text>
<text x="833" y="884" font-size="12" fill="#b2b5be" font-family="Liberation Sans, sans-serif" text-anchor="middle" stroke="#b2b5be" stroke-width="0.3">21</text>
<text x="913" y="884" font-size="12" fill="#b2b5be" font-family="Liberation Sans, sans-serif" text-anchor="middle" stroke="#b2b5be" stroke-width="0.3">23</text>
<text x="994" y="884" font-size="12" fill="#b2b5be" font-family="Liberation Sans, sans-serif" text-anchor="middle" stroke="#b2b5be" stroke-width="0.3">25</text>
<text x="1075" y="884" font-size="12" fill="#b2b5be" font-family="Liberation Sans, sans-serif" text-anchor="middle" stroke="#b2b5be" stroke-width="0.3">27</text>
<text x="1155" y="884" font-size="12" fill="#b2b5be" font-family="Liberation Sans, sans-serif" text-anchor="middle" stroke="#b2b5be" stroke-width="0.3">29</text>
<text x="1276" y="884" font-size="12" fill="#b2b5be" font-family="Liberation Sans, sans-serif" font-weight="bold" text-anchor="middle" >Nov</text>
<text x="1357" y="884" font-size="12" fill="#b2b5be" font-family="Liberation Sans, sans-serif" text-anchor="middle" stroke="#b2b5be" stroke-width="0.3">3</text>
<text x="1437" y="884" font-size="12" fill="#b2b5be" font-family="Liberation Sans, sans-serif" text-anchor="middle" stroke="#b2b5be" stroke-width="0.3">5</text>
<text x="1518" y="884" font-size="12" fill="#b2b5be" font-family="Liberation Sans, sans-serif" text-anchor="middle" stroke="#b2b5be" stroke-width="0.3">7</text>
<text x="1599" y="884" font-size="12" fill="#b2b5be" font-family="Liberation Sans, sans-serif" text-anchor="middle" stroke="#b2b5be" stroke-width="0.3">9</text>
<text x="1679" y="884" font-size="12" fill="#b2b5be" font-family="Liberation Sans, sans-serif" text-anchor="middle" stroke="#b2b5be" stroke-width="0.3">11</text>
<text x="1760" y="884" font-size="12" fill="#b2b5be" font-family="Liberation Sans, sans-serif" text-anchor="middle" stroke="#b2b5be" stroke-width="0.3">13</text>
<text x="1840" y="884" font-size="12" fill="#b2b5be" font-family="Liberation Sans, sans-serif" text-anchor="middle" stroke="#b2b5be" stroke-width="0.3">15</text>
<rect x="1888" y="47.6" width="58" height="26.6" rx="4" fill="#fff"/>
<text x="1897.3" y="66" font-size="12" fill="#131722" font-family="Liberation Sans, sans-serif" textLength="20.4" lengthAdjust="spacingAndGlyphs" >USD</text>
<path d="M1885 80.0 H1939 a2 2 0 0 1 2 2 V95.0 a2 2 0 0 1 -2 2 H1885 Z" fill="#ff9800"/>
<text x="1893.8" y="92.4" font-size="12" fill="#000" font-family="Liberation Sans, sans-serif" textLength="41" lengthAdjust="spacingAndGlyphs" >150,699</text>
<path d="M1885 97.0 H1939 a2 2 0 0 1 2 2 V112.0 a2 2 0 0 1 -2 2 H1885 Z" fill="#26c6da"/>
<text x="1893.8" y="109.4" font-size="12" fill="#000" font-family="Liberation Sans, sans-serif" textLength="41" lengthAdjust="spacingAndGlyphs" >150,698</text>
<path d="M1885 316.0 H1939 a2 2 0 0 1 2 2 V331.0 a2 2 0 0 1 -2 2 H1885 Z" fill="#ff9800"/>
<text x="1893.8" y="328.4" font-size="12" fill="#000" font-family="Liberation Sans, sans-serif" textLength="41" lengthAdjust="spacingAndGlyphs" >133,848</text>
<path d="M1885 385.0 H1939 a2 2 0 0 1 2 2 V400.0 a2 2 0 0 1 -2 2 H1885 Z" fill="#4caf50"/>
<text x="1893.8" y="397.4" font-size="12" fill="#fff" font-family="Liberation Sans, sans-serif" font-weight="bold" textLength="41" lengthAdjust="spacingAndGlyphs" >129,000</text>
<path d="M1885 470.0 H1939 a2 2 0 0 1 2 2 V485.0 a2 2 0 0 1 -2 2 H1885 Z" fill="#ff9800"/>
<text x="1893.8" y="482.4" font-size="12" fill="#000" font-family="Liberation Sans, sans-serif" textLength="41" lengthAdjust="spacingAndGlyphs" >123,158</text>
<path d="M1885 612.0 H1939 a2 2 0 0 1 2 2 V627.0 a2 2 0 0 1 -2 2 H1885 Z" fill="#787b86"/>
<text x="1893.8" y="624.4" font-size="12" fill="#fff" font-family="Liberation Sans, sans-serif" font-weight="bold" textLength="41" lengthAdjust="spacingAndGlyphs" >114,091</text>
<path d="M1885 746.0 H1939 a2 2 0 0 1 2 2 V761.0 a2 2 0 0 1 -2 2 H1885 Z" fill="#f06292"/>
<text x="1893.8" y="758.4" font-size="12" fill="#fff" font-family="Liberation Sans, sans-serif" font-weight="bold" textLength="41" lengthAdjust="spacingAndGlyphs" >106,100</text>
<path d="M1885 654.2 H1943 a2 2 0 0 1 2 2 V682.8 a2 2 0 0 1 -2 2 H1885 Z" fill="#26a69a"/>
<text x="1893.8" y="665.7" font-size="12" fill="#fff" font-family="Liberation Sans, sans-serif" font-weight="bold" textLength="41" lengthAdjust="spacingAndGlyphs" >111,501</text>
<text x="1893.8" y="679.7" font-size="12" fill="#dcf1ee" font-family="Liberation Sans, sans-serif" textLength="46" lengthAdjust="spacingAndGlyphs" stroke="#dcf1ee" stroke-width="0.25">02:07:27</text>
</g>
<path d="M5.9 906.1 H15.3 V917.8 H9.9 V910.9 H5.9 Z" fill="#d9dbe2"/>
<circle cx="18.6" cy="908.6" r="2.05" fill="#d9dbe2"/>
<path d="M22.2 906.1 H28.4 L24.3 917.8 H18.9 Z" fill="#d9dbe2"/>
<text x="33.4" y="917.8" font-size="16.5" fill="#d9dbe2" font-family="Liberation Sans, sans-serif" font-weight="bold" textLength="91.8" lengthAdjust="spacingAndGlyphs" >TradingView</text>
</svg>
</body></html>
